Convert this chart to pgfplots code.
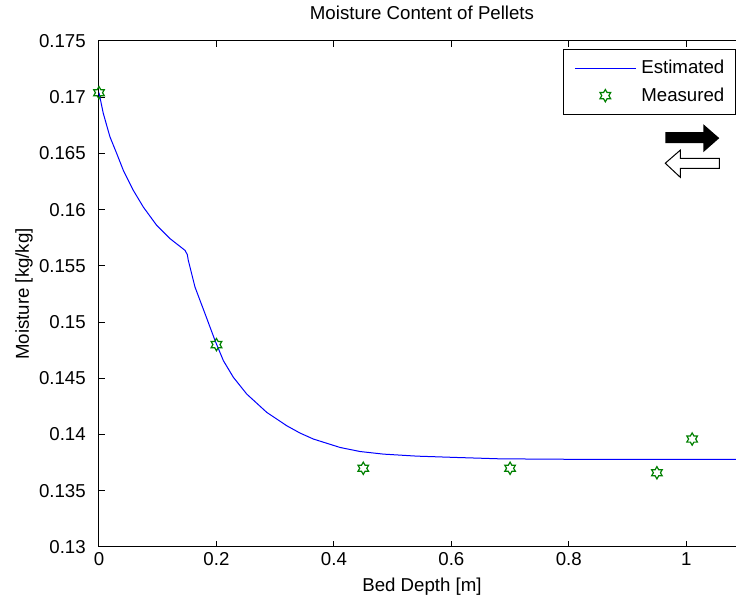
\documentclass[border=0pt]{standalone}
\usepackage{pgfplots}
\pgfplotsset{compat=1.18}
\usepackage{fontspec}
\setmainfont{Liberation Sans}
\definecolor{mgreen}{rgb}{0,0.5,0}
\pgfdeclareplotmark{hexagram}{%
  \pgfpathmoveto{\pgfpointpolar{90}{\pgfplotmarksize}}%
  \pgfpathlineto{\pgfpointpolar{120}{0.57735\pgfplotmarksize}}%
  \pgfpathlineto{\pgfpointpolar{150}{\pgfplotmarksize}}%
  \pgfpathlineto{\pgfpointpolar{180}{0.57735\pgfplotmarksize}}%
  \pgfpathlineto{\pgfpointpolar{210}{\pgfplotmarksize}}%
  \pgfpathlineto{\pgfpointpolar{240}{0.57735\pgfplotmarksize}}%
  \pgfpathlineto{\pgfpointpolar{270}{\pgfplotmarksize}}%
  \pgfpathlineto{\pgfpointpolar{300}{0.57735\pgfplotmarksize}}%
  \pgfpathlineto{\pgfpointpolar{330}{\pgfplotmarksize}}%
  \pgfpathlineto{\pgfpointpolar{0}{0.57735\pgfplotmarksize}}%
  \pgfpathlineto{\pgfpointpolar{30}{\pgfplotmarksize}}%
  \pgfpathlineto{\pgfpointpolar{60}{0.57735\pgfplotmarksize}}%
  \pgfpathclose
  \pgfusepathqstroke
}
\begin{document}
\fontsize{14}{17}\selectfont
\begin{tikzpicture}
\begin{axis}[
  name=ax,
  scale only axis,
  width=484.5pt, height=379.5pt,
  xmin=0, xmax=1.1, ymin=0.13, ymax=0.175,
  xtick={0,0.2,0.4,0.6,0.8,1},
  ytick={0.13,0.135,0.14,0.145,0.15,0.155,0.16,0.165,0.17,0.175},
  scaled x ticks=false, scaled y ticks=false,
  /pgf/number format/assume math mode=true,
  yticklabel style={/pgf/number format/fixed,/pgf/number format/precision=3, anchor=east, inner sep=0pt, xshift=-9.75pt},
  xticklabel style={/pgf/number format/fixed, anchor=base, inner sep=0pt, yshift=-14.25pt},
  tick align=inside,
  major tick length=4.5pt,
  tick style={black, line width=0.75pt},
  axis line style={black, line width=0.75pt},
  title={Moisture Content of Pellets},
  title style={at={(axis description cs:0.5,1.0257)}, anchor=base, inner sep=0pt},
  xlabel={Bed Depth [m]},
  xlabel style={at={(axis description cs:0.5,-0.087)}, anchor=base, inner sep=0pt},
  ylabel={Moisture [kg/kg]},
  ylabel style={at={(axis description cs:-0.1161,0.5)}, anchor=center, inner sep=0pt},
  legend style={at={(0.9853,0.9842)}, anchor=north east, draw=black, line width=0.75pt,
    inner xsep=8pt, inner ysep=8pt, row sep=8.25pt, column sep=3.75pt,
    nodes={inner sep=0pt, anchor=west}},
  legend cell align=left,
  legend image code/.code={\draw[mark repeat=2,mark phase=2,#1] plot coordinates {(0pt,0pt) (22.875pt,0pt) (45.75pt,0pt)};},
]
\addplot[blue, line width=0.75pt, mark=none] coordinates {
(0,0.1704) (0.0073,0.16856) (0.0187,0.16647) (0.0302,0.16499) (0.0414,0.16350)
(0.0584,0.16172) (0.0755,0.16023) (0.0983,0.15860) (0.1210,0.15742) (0.1465,0.15638)
(0.1504,0.15600) (0.1521,0.15548) (0.1635,0.15311) (0.1806,0.15074) (0.1976,0.14836)
(0.2118,0.14657) (0.2288,0.14509) (0.2516,0.14360) (0.2857,0.14197) (0.3198,0.14078)
(0.3424,0.14013) (0.3651,0.13960) (0.4106,0.13885) (0.4446,0.13849) (0.4843,0.13826)
(0.5412,0.13808) (0.6094,0.13796) (0.6831,0.13784) (0.8,0.13780) (1.1,0.13780)
};
\addlegendentry{Estimated}
\addplot[only marks, mgreen, mark=hexagram, mark size=4.6pt, line width=0.9pt] coordinates {
(0,0.1704) (0.2,0.148) (0.45,0.137) (0.7,0.137) (0.95,0.1366) (1.01,0.1396)
};
\addlegendentry{Measured}
\fill[black] (axis cs:0.9642,0.16689) -- (axis cs:1.0290,0.16689) -- (axis cs:1.0290,0.16760) -- (axis cs:1.0562,0.16636) -- (axis cs:1.0290,0.16511) -- (axis cs:1.0290,0.16591) -- (axis cs:0.9642,0.16591) -- cycle;
\draw[black, fill=white, line width=0.75pt] (axis cs:1.0562,0.16457) -- (axis cs:0.9898,0.16457) -- (axis cs:0.9898,0.16529) -- (axis cs:0.9642,0.16413) -- (axis cs:0.9898,0.16288) -- (axis cs:0.9898,0.16368) -- (axis cs:1.0562,0.16368) -- cycle;
\end{axis}
\pgfresetboundingbox
\path[use as bounding box] ([xshift=-74.25pt,yshift=-40.5pt]ax.south west) rectangle ([xshift=477.75pt,yshift=30.75pt]ax.north west);
\end{tikzpicture}
\end{document}
